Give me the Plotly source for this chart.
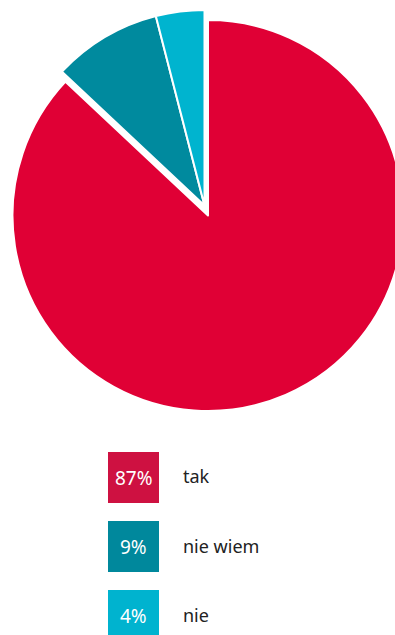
import plotly.graph_objects as go

# Survey answers
labels = ["tak", "nie wiem", "nie"]
values = [87, 9, 4]
pie_colors = ["#E00035", "#008A9E", "#00B4CF"]
legend_colors = ["#CE1141", "#00889C", "#00B3CF"]

W, H = 416, 635
CLEAR = "rgba(0,0,0,0)"


def px_x(x):
    return x / W


def px_y(y):
    return 1 - y / H


fig = go.Figure()

# Main wedge ("tak") sits in place
fig.add_trace(go.Pie(
    labels=labels, values=values, sort=False, direction="clockwise", rotation=0,
    marker=dict(colors=[pie_colors[0], CLEAR, CLEAR],
                line=dict(color="white", width=[2, 0, 0])),
    textinfo="none", hoverinfo="skip", showlegend=False,
    domain=dict(x=[0, 1], y=[px_y(411), px_y(20)]),
))

# The two smaller wedges are nudged out together
fig.add_trace(go.Pie(
    labels=labels, values=values, sort=False, direction="clockwise", rotation=0,
    marker=dict(colors=[CLEAR, pie_colors[1], pie_colors[2]],
                line=dict(color="white", width=[0, 2, 2])),
    textinfo="none", hoverinfo="skip", showlegend=False,
    domain=dict(x=[0, px_x(W - 7)], y=[px_y(401), px_y(10)]),
))

# Legend: coloured square with the share, label to the right
shapes = []
annotations = []
box = 51
x0 = 108
for i, (lab, val, col) in enumerate(zip(labels, values, legend_colors)):
    top = 452 + 69 * i
    cy = top + box / 2
    shapes.append(dict(type="rect", xref="paper", yref="paper",
                       x0=px_x(x0), x1=px_x(x0 + box), y0=px_y(top + box), y1=px_y(top),
                       fillcolor=col, line=dict(width=0)))
    annotations.append(dict(xref="paper", yref="paper", x=px_x(x0 + box / 2), y=px_y(cy),
                            text=f"{val}%", showarrow=False, xanchor="center", yanchor="middle",
                            font=dict(family="Noto Sans", size=19, color="white")))
    annotations.append(dict(xref="paper", yref="paper", x=px_x(181), y=px_y(cy - 1),
                            text=lab, showarrow=False, xanchor="left", yanchor="middle",
                            font=dict(family="Noto Sans", size=18, color="#222222")))

fig.update_layout(
    width=W, height=H,
    margin=dict(l=0, r=0, t=0, b=0),
    paper_bgcolor="white", plot_bgcolor="white",
    shapes=shapes, annotations=annotations,
)

fig.write_html(
    "out.html",
    config={"displayModeBar": False},
    post_script="document.body.style.overflow='hidden';document.documentElement.style.overflow='hidden';",
)
